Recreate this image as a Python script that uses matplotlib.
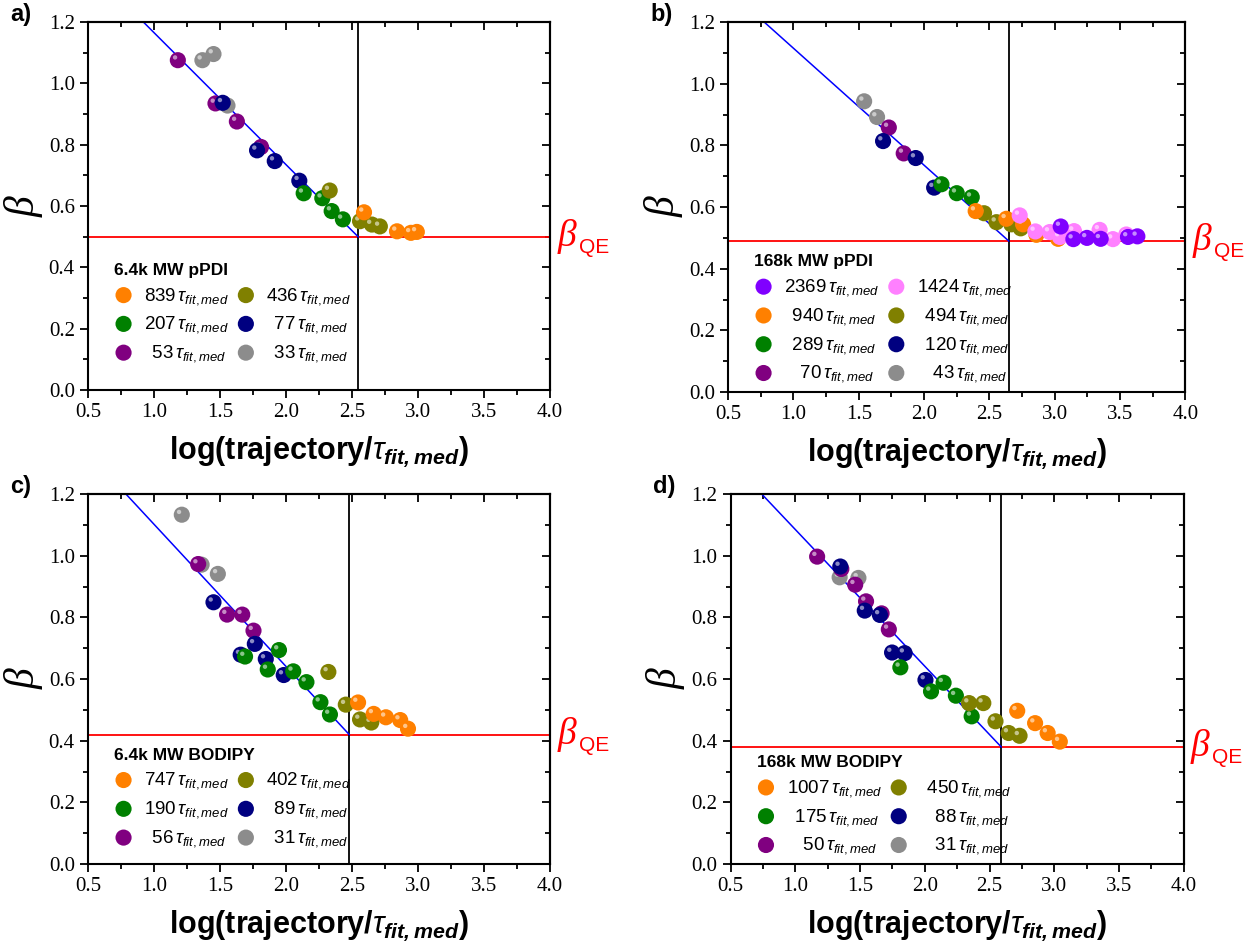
import numpy as np
import matplotlib
matplotlib.use("Agg")
import matplotlib.pyplot as plt
from matplotlib.transforms import offset_copy, blended_transform_factory

plt.rcParams['font.family'] = ['Liberation Sans', 'DejaVu Sans']
plt.rcParams['mathtext.fontset'] = 'custom'
plt.rcParams['mathtext.rm'] = 'Liberation Sans'
plt.rcParams['mathtext.it'] = 'Liberation Sans:italic'
plt.rcParams['mathtext.bf'] = 'Liberation Sans:bold'
plt.rcParams['mathtext.bfit'] = 'Liberation Sans:italic:bold'

# colours per trajectory length (longest -> shortest)
c_orange = '#ff8000'
c_olive = '#808000'
c_green = '#008000'
c_navy = '#000080'
c_purple = '#800080'
c_gray = '#8c8c8c'
c_violet = '#8000ff'
c_pink = '#ff80ff'

# ---- a) 6.4k MW pPDI
a_title = '6.4k MW pPDI'
a_labels = ['839', '436', '207', '77', '53', '33']
a_colors = [c_orange, c_olive, c_green, c_navy, c_purple, c_gray]
a_x = [[2.59, 2.84, 2.945, 2.99],
       [2.33, 2.56, 2.65, 2.71],
       [2.133, 2.274, 2.345, 2.43],
       [1.52, 1.78, 1.914, 2.10],
       [1.18, 1.465, 1.627, 1.81],
       [1.366, 1.45, 1.556]]
a_y = [[0.58, 0.518, 0.513, 0.516],
       [0.651, 0.551, 0.54, 0.534],
       [0.642, 0.626, 0.584, 0.557],
       [0.937, 0.782, 0.747, 0.683],
       [1.076, 0.935, 0.876, 0.793],
       [1.076, 1.096, 0.928]]
a_fit_x = [0.92, 2.546]
a_fit_y = [1.2, 0.5]
a_vline = 2.546
a_bqe = 0.5

# ---- b) 168k MW pPDI
b_title = '168k MW pPDI'
b_labels = ['2369', '1424', '940', '494', '289', '120', '70', '43']
b_colors = [c_violet, c_pink, c_orange, c_olive, c_green, c_navy, c_purple, c_gray]
b_x = [[3.046, 3.143, 3.247, 3.352, 3.561, 3.633],
       [2.732, 2.852, 2.962, 3.04, 3.148, 3.344, 3.446, 3.548],
       [2.395, 2.63, 2.758, 2.86, 3.026],
       [2.459, 2.554, 2.668, 2.74],
       [2.133, 2.25, 2.365],
       [1.686, 1.936, 2.077],
       [1.73, 1.844],
       [1.541, 1.64]]
b_y = [[0.537, 0.496, 0.50, 0.497, 0.503, 0.505],
       [0.573, 0.521, 0.519, 0.503, 0.522, 0.526, 0.496, 0.511],
       [0.587, 0.562, 0.544, 0.51, 0.497],
       [0.58, 0.551, 0.544, 0.531],
       [0.674, 0.645, 0.632],
       [0.814, 0.759, 0.663],
       [0.858, 0.774],
       [0.943, 0.892]]
b_fit_x = [0.776, 2.648]
b_fit_y = [1.2, 0.49]
b_vline = 2.648
b_bqe = 0.49

# ---- c) 6.4k MW BODIPY
c_title = '6.4k MW BODIPY'
c_labels = ['747', '402', '190', '89', '56', '31']
c_colors = [c_orange, c_olive, c_green, c_navy, c_purple, c_gray]
c_x = [[2.545, 2.663, 2.756, 2.864, 2.923],
       [2.32, 2.452, 2.56, 2.645],
       [1.689, 1.861, 1.946, 2.054, 2.154, 2.26, 2.332],
       [1.45, 1.656, 1.763, 1.846, 1.982],
       [1.334, 1.553, 1.668, 1.753],
       [1.21, 1.36, 1.483]]
c_y = [[0.524, 0.487, 0.476, 0.467, 0.439],
       [0.623, 0.517, 0.469, 0.459],
       [0.673, 0.631, 0.694, 0.625, 0.59, 0.525, 0.485],
       [0.849, 0.679, 0.714, 0.665, 0.613],
       [0.973, 0.809, 0.809, 0.757],
       [1.133, 0.971, 0.941]]
c_fit_x = [0.787, 2.478]
c_fit_y = [1.2, 0.42]
c_vline = 2.478
c_bqe = 0.42

# ---- d) 168k MW BODIPY
d_title = '168k MW BODIPY'
d_labels = ['1007', '450', '175', '88', '50', '31']
d_colors = [c_orange, c_olive, c_green, c_navy, c_purple, c_gray]
d_x = [[2.714, 2.852, 2.949, 3.043],
       [2.342, 2.452, 2.546, 2.648, 2.732],
       [1.811, 2.048, 2.145, 2.24, 2.362],
       [1.347, 1.536, 1.653, 1.747, 1.844, 2.005],
       [1.168, 1.355, 1.462, 1.546, 1.666, 1.722],
       [1.342, 1.487]]
d_y = [[0.497, 0.457, 0.425, 0.397],
       [0.522, 0.522, 0.463, 0.425, 0.416],
       [0.638, 0.56, 0.588, 0.546, 0.479],
       [0.965, 0.822, 0.808, 0.686, 0.684, 0.597],
       [0.997, 0.957, 0.906, 0.852, 0.813, 0.761],
       [0.93, 0.928]]
d_fit_x = [0.74, 2.59]
d_fit_y = [1.2, 0.38]
d_vline = 2.59
d_bqe = 0.38


fig = plt.figure(figsize=(12.49, 9.47), dpi=100)


def draw_panel(rect, letter, title, labels, colors, xs, ys, fit_x, fit_y, vline, bqe, leg_y):
    ax = fig.add_axes(rect)
    ax.set_xlim(0.5, 4.0)
    ax.set_ylim(0.0, 1.2)

    ax.axhline(bqe, color='red', lw=1.3, zorder=1)
    ax.axvline(vline, color='black', lw=1.3, zorder=1)
    ax.plot(fit_x, fit_y, color='blue', lw=1.1, zorder=2)

    # shortest trajectories first so the longer ones sit on top
    handles = []
    hl = offset_copy(ax.transData, fig=fig, x=-2.0, y=2.0, units='points')
    n = len(labels)
    for i in range(n - 1, -1, -1):
        h = ax.scatter(xs[i], ys[i], s=135, color=colors[i], edgecolors='none', zorder=3 + (n - i))
        ax.scatter(xs[i], ys[i], s=10, color='white', alpha=0.55, edgecolors='none',
                   transform=hl, zorder=3 + (n - i) + 0.5)
        handles.append(h)
    handles = handles[::-1]

    # legend rows go across, matplotlib fills columns first
    w = max(len(s) for s in labels)
    order = list(range(0, n, 2)) + list(range(1, n, 2))
    leg_h = [handles[k] for k in order]
    leg_l = []
    for k in order:
        pad = r'\enspace' * (w - len(labels[k]))
        lab = labels[k] + r'$\,\tau_{fit,med}$'
        if pad:
            lab = '$' + pad + '$' + lab
        leg_l.append(lab)
    ax.legend(leg_h, leg_l, ncol=2, loc='lower left', bbox_to_anchor=(0.02, leg_y),
              frameon=False, fontsize=13.5, title=title, alignment='left',
              handlelength=1.0, handletextpad=0.6, columnspacing=0.4, labelspacing=0.42,
              title_fontproperties={'weight': 'bold', 'size': 12.5})

    ax.set_xticks(np.arange(0.5, 4.01, 0.5))
    ax.set_xticks(np.arange(0.75, 4.0, 0.5), minor=True)
    ax.set_yticks(np.arange(0.0, 1.21, 0.2))
    ax.set_yticks(np.arange(0.1, 1.2, 0.2), minor=True)
    ax.tick_params(which='both', direction='out', width=1.3, labelsize=15,
                   labelfontfamily='Liberation Serif')
    ax.tick_params(which='major', length=6)
    ax.tick_params(which='minor', length=3.5)

    top = ax.secondary_xaxis('top')
    top.set_xticks(np.arange(0.5, 4.01, 0.5))
    top.set_xticks(np.arange(0.75, 4.0, 0.5), minor=True)
    top.tick_params(which='both', direction='in', labeltop=False, width=1.3)
    top.tick_params(which='major', length=6)
    top.tick_params(which='minor', length=3.5)
    right = ax.secondary_yaxis('right')
    right.set_yticks(np.arange(0.0, 1.21, 0.2))
    right.set_yticks(np.arange(0.1, 1.2, 0.2), minor=True)
    right.tick_params(which='both', direction='in', labelright=False, width=1.3)
    right.tick_params(which='major', length=6)
    right.tick_params(which='minor', length=3.5)
    for s in list(ax.spines.values()) + [top.spines['top'], right.spines['right']]:
        s.set_linewidth(1.5)

    ax.set_xlabel(r'log(trajectory/$\tau_{\mathbfit{fit,med}}$)', fontsize=22,
                  fontweight='bold', labelpad=9)
    ax.set_ylabel('β', fontsize=30, family='Liberation Serif', style='italic', labelpad=4)

    tr = blended_transform_factory(ax.transAxes, ax.transData)
    ax.text(1.015, bqe, 'β', color='red', fontsize=27, family='Liberation Serif',
            style='italic', va='center', ha='left', transform=tr)
    ax.text(1.063, bqe - 0.035, 'QE', color='red', fontsize=15, va='center', ha='left',
            transform=tr)

    fig.text(rect[0] - 0.062, rect[1] + rect[3] + 0.02, letter, fontsize=17,
             fontweight='bold', va='top', ha='left')
    return ax


draw_panel([0.0705, 0.588, 0.370, 0.3886], 'a)', a_title, a_labels, a_colors, a_x, a_y,
           a_fit_x, a_fit_y, a_vline, a_bqe, 0.025)
draw_panel([0.583, 0.586, 0.366, 0.3907], 'b)', b_title, b_labels, b_colors, b_x, b_y,
           b_fit_x, b_fit_y, b_vline, b_bqe, -0.025)
draw_panel([0.0705, 0.0876, 0.370, 0.3907], 'c)', c_title, c_labels, c_colors, c_x, c_y,
           c_fit_x, c_fit_y, c_vline, c_bqe, -0.005)
draw_panel([0.585, 0.0876, 0.3627, 0.3907], 'd)', d_title, d_labels, d_colors, d_x, d_y,
           d_fit_x, d_fit_y, d_vline, d_bqe, -0.025)

fig.savefig('out.png', dpi=100)
